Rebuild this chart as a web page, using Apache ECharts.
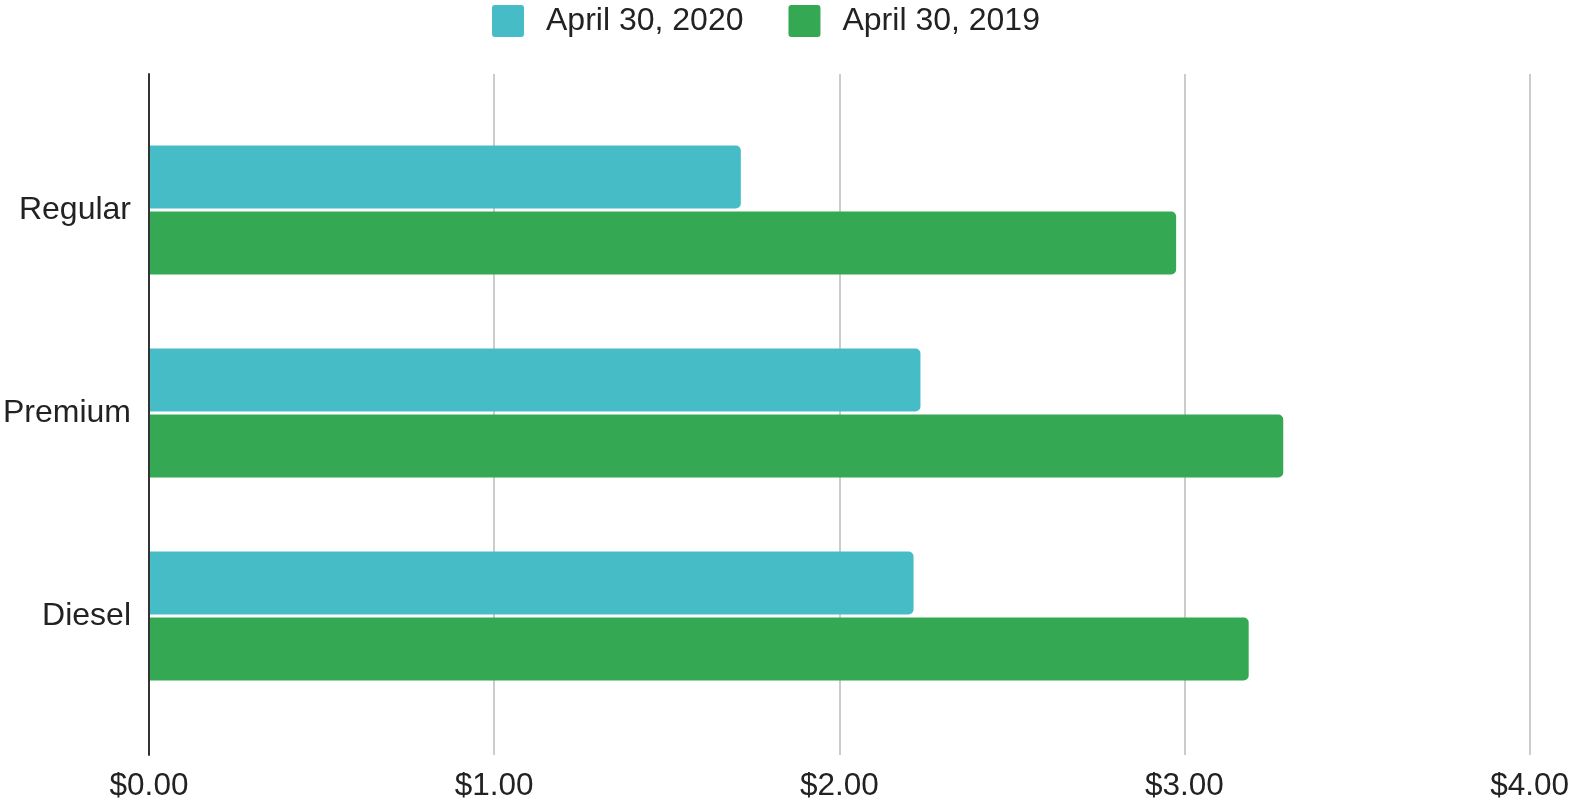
<!DOCTYPE html>
<html>
<head>
<meta charset="utf-8">
<script src="https://cdn.jsdelivr.net/npm/echarts@6/dist/echarts.min.js"></script>
<style>
html,body{margin:0;padding:0;background:#fff;}
#chart{width:1572px;height:807px;}
</style>
</head>
<body>
<div id="chart"></div>
<script>
const categories = ['Regular', 'Premium', 'Diesel'];
const seriesNames = ['April 30, 2020', 'April 30, 2019'];
const values2020 = [1.71, 2.23, 2.21];
const values2019 = [2.97, 3.28, 3.18];
const xTicks = [0, 1, 2, 3, 4];

const FONT = 'Liberation Sans, Arial, sans-serif';
const chart = echarts.init(document.getElementById('chart'));
chart.setOption({
  animation: false,
  textStyle: { fontFamily: FONT },
  legend: {
    left: 487, top: 0,
    itemWidth: 32, itemHeight: 32, itemGap: 45,
    icon: 'path://M3,0 H29 A3,3 0 0 1 32,3 V29 A3,3 0 0 1 29,32 H3 A3,3 0 0 1 0,29 V3 A3,3 0 0 1 3,0 Z',
    textStyle: { fontSize: 32, color: '#222', fontFamily: FONT, padding: [0, 0, 0, 17] },
    data: seriesNames
  },
  grid: [
    { left: 149, right: 40, top: 108.5, bottom: 89.5 },
    { left: 149, right: 40, top: 74, bottom: 52 }
  ],
  xAxis: [
    { gridIndex: 0, type: 'value', min: xTicks[0], max: xTicks[xTicks.length - 1], interval: 1, show: false },
    {
      gridIndex: 1, type: 'value', min: xTicks[0], max: xTicks[xTicks.length - 1], interval: 1,
      axisLine: { show: false }, axisTick: { show: false },
      splitLine: { show: true, lineStyle: { color: '#cccccc', width: 2 } },
      axisLabel: { fontSize: 31.5, color: '#222', margin: 15, fontFamily: FONT,
        formatter: v => '$' + v.toFixed(2) }
    }
  ],
  yAxis: [
    {
      gridIndex: 0, type: 'category', data: categories, inverse: true,
      axisLine: { show: false }, axisTick: { show: false },
      axisLabel: { fontSize: 32, color: '#222', margin: 19, fontFamily: FONT }
    },
    {
      gridIndex: 1, type: 'value', min: 0, max: 1,
      axisLine: { show: true, onZero: false, lineStyle: { color: '#333', width: 2 } },
      axisTick: { show: false }, axisLabel: { show: false }, splitLine: { show: false }
    }
  ],
  series: [
    {
      name: seriesNames[0], type: 'bar', xAxisIndex: 0, yAxisIndex: 0,
      data: values2020, barWidth: 63, barGap: '5%',
      itemStyle: { color: '#46bdc6', borderRadius: [0, 5, 5, 0] }
    },
    {
      name: seriesNames[1], type: 'bar', xAxisIndex: 0, yAxisIndex: 0,
      data: values2019, barWidth: 63, barGap: '5%',
      itemStyle: { color: '#34a853', borderRadius: [0, 5, 5, 0] }
    }
  ]
});
</script>
</body>
</html>
